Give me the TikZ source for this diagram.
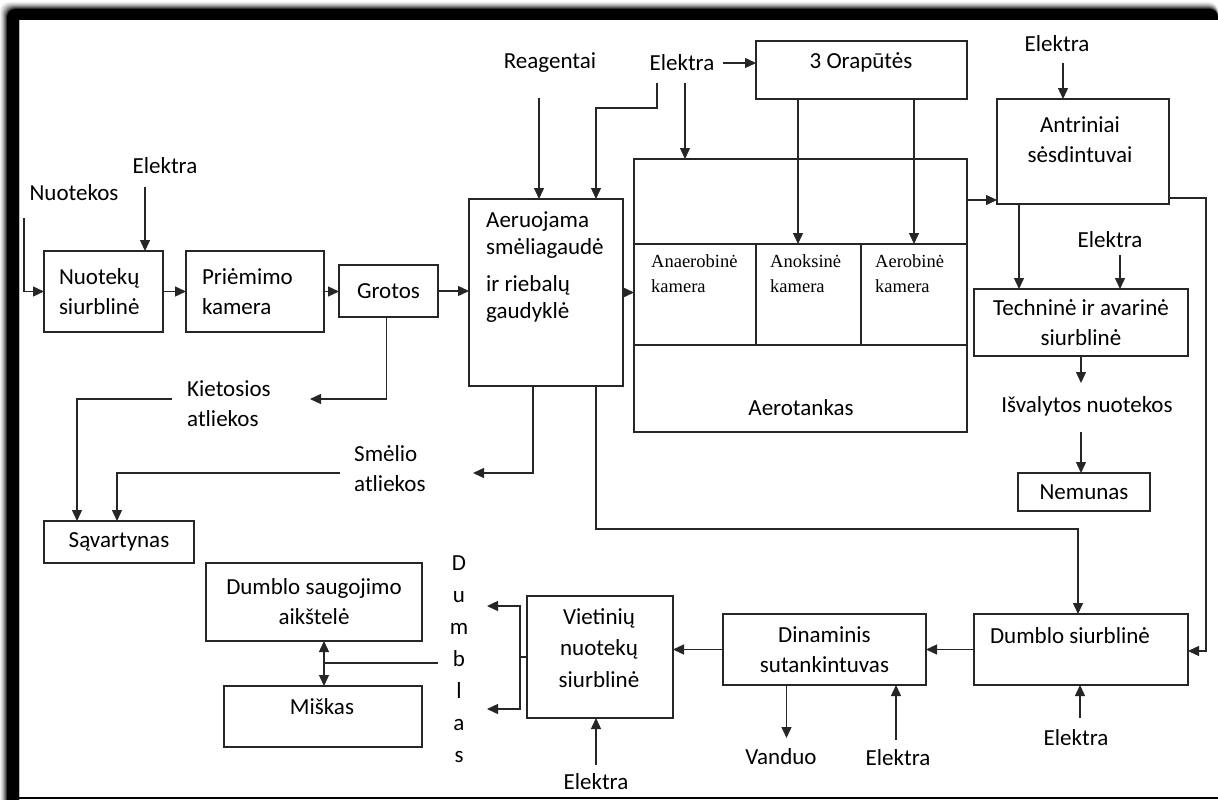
\documentclass[tikz,border=0pt]{standalone}
\usepackage{fontspec}
\setmainfont{Carlito}
\newfontfamily\camfont{Liberation Serif}
\usetikzlibrary{arrows.meta,calc}
\begin{document}
\begin{tikzpicture}[x=1pt,y=-1pt,
  line/.style={draw=black!85, line width=1.4pt},
  arr/.style={line, -{Triangle[length=11pt,width=10pt]}},
  arrtwo/.style={line, {Triangle[length=11pt,width=10pt]}-{Triangle[length=11pt,width=10pt]}},
  box/.style={draw=black!85, line width=1.6pt, inner sep=0pt, outer sep=0pt,
    anchor=north west, font=\fontsize{23}{30}\selectfont},
  txt/.style={font=\fontsize{23}{30}\selectfont, inner sep=2pt},
  cam/.style={font=\camfont\fontsize{18.5}{25}\selectfont, align=left, inner sep=0pt, anchor=west},
]
\useasboundingbox (0,0) rectangle (1218,800);

% page frame with its soft shadow
\foreach \o/\a in {7/0.06,6/0.08,5/0.1,4/0.14,3/0.2,2/0.3,1/0.45}{
  \fill[black,opacity=\a] (7-\o,800) [rounded corners=9pt]-- (7-\o,9-\o) -- (1218,9-\o) [sharp corners]-- (1218,20) -- (19,20) -- (19,800) -- cycle;
}
\fill[black] (7,800) [rounded corners=8pt]-- (7,9) -- (1218,9) [sharp corners]-- (1218,20) -- (19,20) -- (19,800) -- cycle;
\draw[line width=2pt] (19,798) -- (1218,798);

% boxes
\node[box, minimum width=119pt, minimum height=81pt, text width=89pt, inner xsep=15pt, align=left] (ns) at (44,251) {Nuotekų\\siurblinė};
\node[box, minimum width=138pt, minimum height=81pt, text width=106pt, inner xsep=16pt, align=left] (pk) at (186,251) {Priėmimo\\kamera};
\node[box, minimum width=99pt, minimum height=52pt] (gr) at (339,265) {Grotos};
\node[box, minimum width=154pt, minimum height=187pt] (ae) at (469,199) {};
\node[txt, align=left, anchor=west, font=\fontsize{23}{27}\selectfont] (t-ae) at (484,267) {Aeruojama\\smėliagaudė\\[10pt]ir riebalų\\gaudyklė};

\node[box, minimum width=333pt, minimum height=273pt] (at) at (634,159) {};
\node[box, minimum width=122pt, minimum height=101pt] (anae) at (634,244) {};
\node[box, minimum width=105pt, minimum height=101pt] (anox) at (756,244) {};
\node[box, minimum width=106pt, minimum height=101pt] (aerob) at (861,244) {};
\node[cam] (t-anae) at (651,274) {Anaerobinė\\kamera};
\node[cam] (t-anox) at (770,274) {Anoksinė\\kamera};
\node[cam] (t-aerob) at (875,274) {Aerobinė\\kamera};
\node[txt] (t-at) at (801,408) {Aerotankas};

\node[box, minimum width=211pt, minimum height=58pt] (op) at (756,41) {};
\node[txt] (t-op) at (861,62) {3 Orapūtės};
\node[box, minimum width=172pt, minimum height=105pt] (as) at (997,99) {};
\node[txt, align=center] (t-as) at (1080,140) {Antriniai\\sėsdintuvai};
\node[box, minimum width=214pt, minimum height=67pt, align=center] (ts) at (974,289) {Techninė ir avarinė\\siurblinė};
\node[txt] (t-isv) at (1087,406) {Išvalytos nuotekos};
\node[box, minimum width=132pt, minimum height=38pt] (nm) at (1018,473) {Nemunas};
\node[box, minimum width=214pt, minimum height=71pt] (ds) at (974,614) {};
\node[txt] (t-ds) at (1070,636) {Dumblo siurblinė};
\node[box, minimum width=203pt, minimum height=71pt, align=center] (dn) at (723,614) {Dinaminis\\sutankintuvas};
\node[box, minimum width=146pt, minimum height=122pt] (vn) at (527,596) {};
\node[txt, align=center, font=\fontsize{23}{31.5}\selectfont] (t-vn) at (599,648) {Vietinių\\nuotekų\\siurblinė};
\node[box, minimum width=216pt, minimum height=78pt, align=center] (dsa) at (206,563) {Dumblo saugojimo\\aikštelė};
\node[box, minimum width=198pt, minimum height=61pt] (mk) at (224,686) {};
\node[txt] (t-mk) at (322,707) {Miškas};
\node[box, minimum width=150pt, minimum height=42pt] (sv) at (44,521) {Sąvartynas};

% free labels
\node[txt] (t-nuot) at (74,193) {Nuotekos};
\node[txt] (el1) at (165,166) {Elektra};
\node[txt] (t-reag) at (550,63) {Reagentai};
\node[txt] (el2) at (682,63) {Elektra};
\node[txt] (el3) at (1057,44) {Elektra};
\node[txt] (el4) at (1110,240) {Elektra};
\node[txt, align=left, anchor=west] (t-kiet) at (185,404) {Kietosios\\atliekos};
\node[txt, align=left, anchor=west] (t-sm) at (352,469) {Smėlio\\atliekos};
\node[txt, align=center, font=\fontsize{23}{32}\selectfont] (t-dumb) at (459,659) {D\\u\\m\\b\\l\\a\\s};
\node[txt] (t-van) at (781,757) {Vanduo};
\node[txt] (el5) at (898,758) {Elektra};
\node[txt] (el6) at (1076,738) {Elektra};
\node[txt] (el7) at (596,782) {Elektra};

% inflow and main line
\coordinate (nu0) at (24,218);
\draw[arr] (nu0) |- (ns.west);
\coordinate (e1) at (145,187);
\draw[arr] (e1) -- (e1 |- ns.north);
\draw[arr] (ns.east) -- (pk.west);
\draw[arr] (pk.east) -- (pk.east -| gr.west);
\draw[arr] (gr.east) -- (gr.east -| ae.west);
\draw[arr] (ae.east) -- (ae.east -| at.west);

% reagents and power to the sand trap and aeration tank
\coordinate (r0) at (539,98);
\draw[arr] (r0) -- (r0 |- ae.north);
\coordinate (e2o) at (723,63);
\draw[arr] (e2o) -- (e2o -| op.west);
\coordinate (e2a) at (685,83);
\draw[arr] (e2a) -- (e2a |- at.north);
\coordinate (e2b) at (657,83);
\coordinate (e2c) at (596,108);
\draw[arr] (e2b) |- (e2c) -- (e2c |- ae.north);

% blowers into the chambers
\coordinate (o1) at (798,99);
\draw[arr] (o1) -- (o1 |- anox.north);
\coordinate (o2) at (914,99);
\draw[arr] (o2) -- (o2 |- aerob.north);

% secondary settling and outflow
\coordinate (at-o) at ([yshift=-41pt]at.north east);
\draw[arr] (at-o) -- (at-o -| as.west);
\coordinate (e3) at (1063,63);
\draw[arr] (e3) -- (e3 |- as.north);
\coordinate (as-d) at ([xshift=-64pt]as.south);
\draw[arr] (as-d) -- (as-d |- ts.north);
\coordinate (e4) at (1120,255);
\draw[arr] (e4) -- (e4 |- ts.north);
\coordinate (isv-in) at (1081,383);
\draw[arr] (ts.south) -- (isv-in);
\coordinate (isv-out) at (1081,432);
\draw[arr] (isv-out) -- (isv-out |- nm.north);

% sludge return lines
\coordinate (as-r) at ([yshift=6pt]as.south east);
\coordinate (rr) at (1206,651);
\draw[arr] (as-r) -| (rr) -- (rr -| ds.east);
\coordinate (ae-d2) at ([xshift=50pt]ae.south);
\coordinate (ak) at (1078,529);
\draw[arr] (ae-d2) |- (ak) -- (ak |- ds.north);

% waste to the landfill
\coordinate (ae-d1) at ([xshift=-13pt]ae.south);
\coordinate (sm-tip) at (473,473);
\draw[arr] (ae-d1) |- (sm-tip);
\coordinate (s1) at (340,473);
\draw[arr] (s1) -| ([xshift=-2pt]sv.north);
\coordinate (k-tip) at (310,399);
\draw[arr] ([xshift=-2pt]gr.south) |- (k-tip);
\coordinate (k1) at (172,399);
\draw[arr] (k1) -| ([xshift=-42pt]sv.north);

% sludge treatment line
\draw[arr] (ds.west) -- (dn.east);
\draw[arr] (dn.west) -- (dn.west -| vn.east);
\coordinate (v1) at (786.5,738);
\draw[arr] (dn.south -| v1) -- (v1);
\coordinate (e5) at (896,740);
\draw[arr] (e5) -- (e5 |- dn.south);
\coordinate (e6) at (1080,718);
\draw[arr] (e6) -- (e6 |- ds.south);
\coordinate (e7) at (596,765);
\draw[arr] (e7) -- (e7 |- vn.south);

% sludge distribution
\coordinate (bx) at (520,606);
\coordinate (bxd) at (520,709);
\coordinate (dup) at (487,606);
\coordinate (ddn) at (487,709);
\draw[line] (vn.west) -- (vn.west -| bx);
\draw[arrtwo] (dup) -- (bx) -- (bxd) -- (ddn);
\coordinate (dl) at (438,663);
\coordinate (dj) at (324,663);
\draw[line] (dl) -- (dj);
\draw[arrtwo] (dsa.south -| dj) -- (mk.north -| dj);
\end{tikzpicture}
\end{document}
